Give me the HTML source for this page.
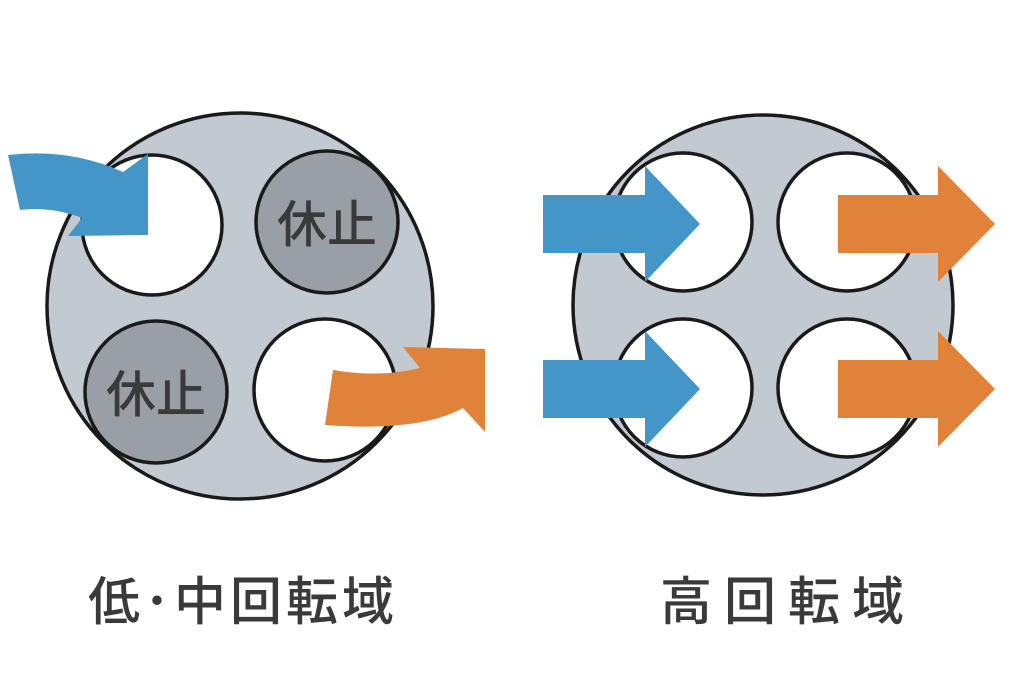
<!DOCTYPE html>
<html><head><meta charset="utf-8"><style>
body{margin:0;background:#fff;width:1024px;height:683px;overflow:hidden}
svg text{font-family:"Liberation Sans","Noto Sans CJK JP",sans-serif;fill:#3a3a3a;font-weight:500}
</style></head><body>
<svg width="1024" height="683" viewBox="0 0 1024 683">
<g stroke="#1a1a1a" stroke-width="3.5">
<circle cx="240" cy="306" r="193" fill="#c3c9d0"/>
<circle cx="152" cy="225" r="70" fill="#fff"/>
<circle cx="327" cy="222" r="71" fill="#9a9ea5"/>
<circle cx="156" cy="392" r="71" fill="#9a9ea5"/>
<circle cx="325" cy="390" r="71" fill="#fff"/>
<circle cx="763" cy="305" r="190" fill="#c3c9d0"/>
<circle cx="683" cy="222" r="69" fill="#fff"/>
<circle cx="847" cy="222" r="69" fill="#fff"/>
<circle cx="683" cy="388" r="69" fill="#fff"/>
<circle cx="847" cy="388" r="69" fill="#fff"/>
</g>
<text x="327" y="242" font-size="50" text-anchor="middle">休止</text>
<text x="156" y="412" font-size="50" text-anchor="middle">休止</text>
<path d="M8,155 Q70,148 123,172 L148,154 L148,235 L68,236 L82,218 Q50,206 20,210 Z" fill="#4596c8"/>
<path d="M333,370 Q380,378 420,368 L403,347 L485,349 L485,432 L463,408 Q420,432 325,425 Z" fill="#e0823a"/>
<g fill="#4596c8">
<path d="M543,195 H645 V166 L700,224 L645,282 V253 H543 Z"/>
<path d="M543,360 H645 V331 L700,389 L645,447 V418 H543 Z"/>
</g>
<g fill="#e0823a">
<path d="M838,195 H938 V166 L995,224 L938,282 V253 H838 Z"/>
<path d="M838,360 H938 V331 L995,389 L938,447 V418 H838 Z"/>
</g>
<text x="88" y="620" font-size="52" letter-spacing="4">低･中回転域</text>
<text x="660" y="620" font-size="52" letter-spacing="12">高回転域</text>
</svg>
</body></html>
